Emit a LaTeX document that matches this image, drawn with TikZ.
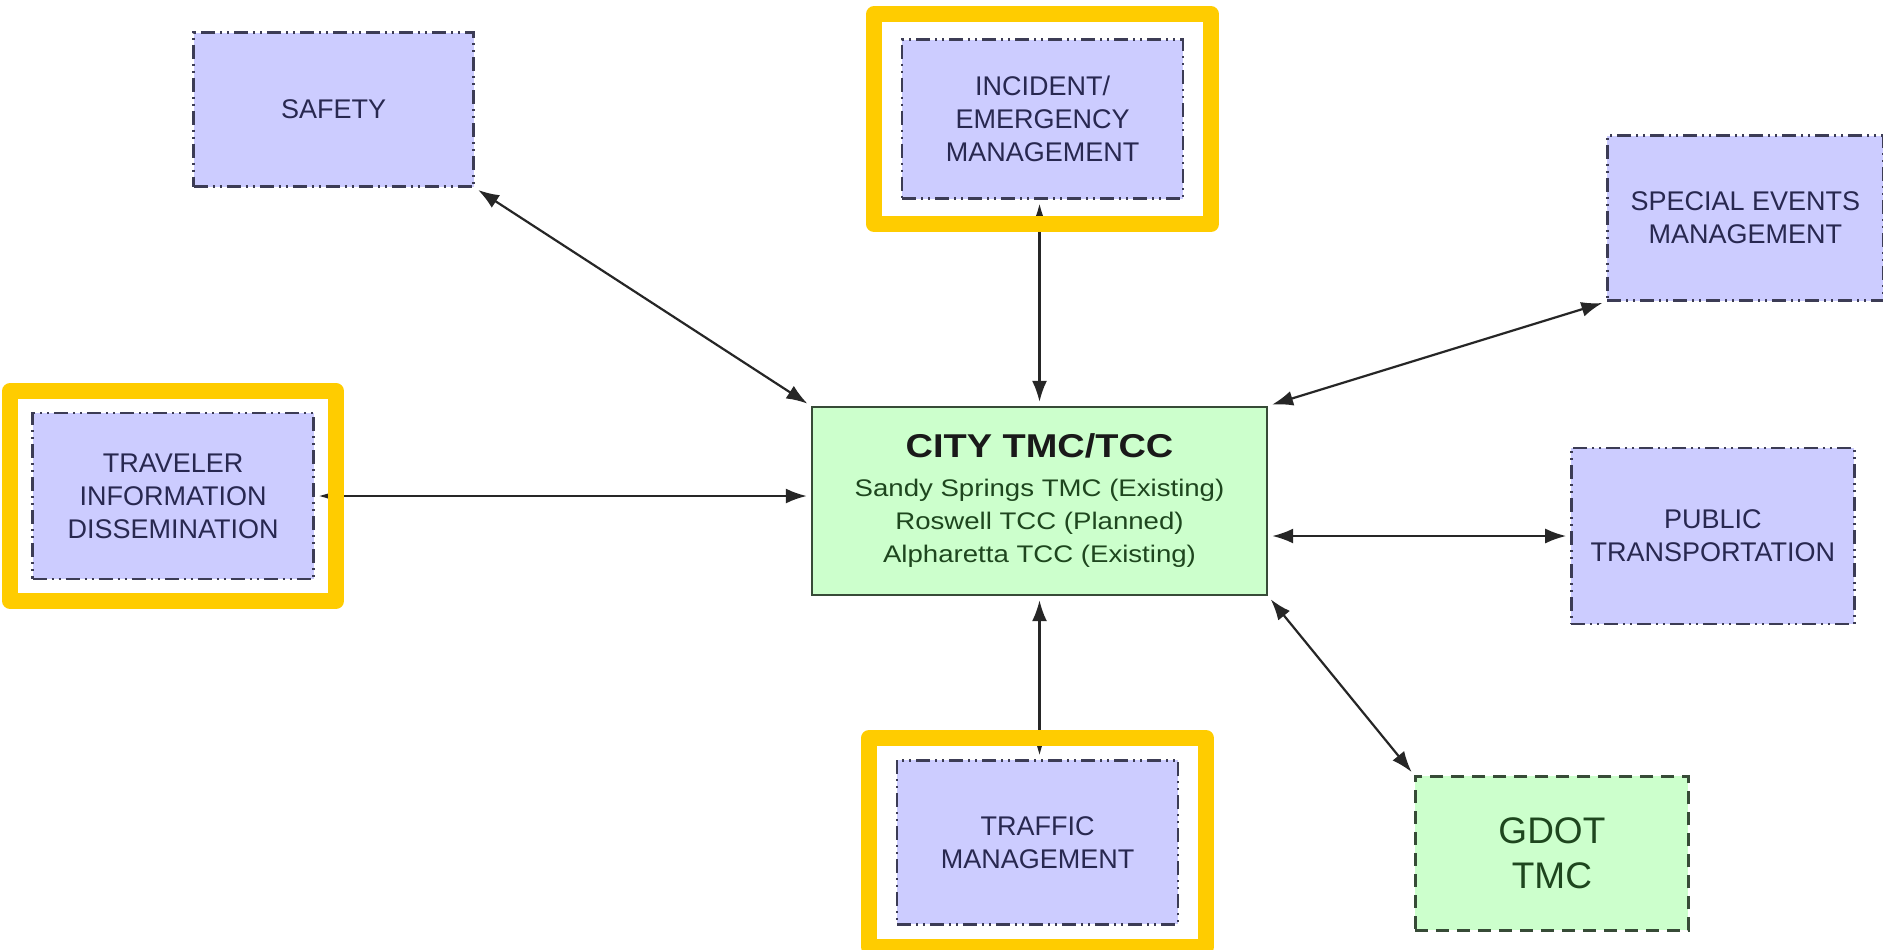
\documentclass[tikz,border=0pt]{standalone}
\usepackage{fontspec}
\setmainfont{Liberation Sans}
\newfontfamily\widesans{Liberation Sans}[FakeStretch=1.15]
\usetikzlibrary{positioning,fit,arrows.meta}

\definecolor{boxblue}{RGB}{204,204,255}
\definecolor{boxgreen}{RGB}{204,255,204}
\definecolor{hiyellow}{RGB}{255,204,0}
\definecolor{navytext}{RGB}{40,40,80}
\definecolor{greentext}{RGB}{30,70,30}
\definecolor{edgegray}{RGB}{60,60,85}
\definecolor{tmcedge}{RGB}{55,75,55}

\begin{document}
\begin{tikzpicture}[%
			x=0.5pt, y=-0.5pt,
			<->,
			shorten >=2pt,
			shorten <=2pt,
			>={Latex[length=10.5pt,width=7.5pt]},
			line width=1.1pt,
			every edge/.append style={draw=black!85},
			funcbox/.style={%
				draw=edgegray,
				fill=boxblue,
				line width=1.2pt,
				dash pattern=on 7pt off 2.5pt on 1pt off 2.5pt on 1pt off 2.5pt,
				text=navytext,
				font=\fontsize{13.5}{16.5}\selectfont,
				align=center,
				inner sep=0pt
			},
			tmcbox/.style={%
				draw=tmcedge,
				fill=boxgreen,
				line width=1.2pt,
				text=greentext,
				align=center,
				inner sep=0pt
			},
			hilite/.style={%
				draw=hiyellow,
				line width=8pt,
				line join=round,
				inner sep=11pt
			}
			]
			\useasboundingbox (0,0) rectangle (1883,949);
			\node[tmcbox, minimum width=227.5pt, minimum height=94pt, font=\widesans\fontsize{12}{16.5}\selectfont] (1) at (1039.5,501) {%
				{\color{black!90}\fontsize{16.5}{20}\selectfont\bfseries CITY TMC/TCC}\\[3pt]
				Sandy Springs TMC (Existing)\\
				Roswell TCC (Planned)\\
				Alpharetta TCC (Existing)};
			\node[funcbox, minimum width=140pt, minimum height=77pt] (2) [above left=109pt and 168pt of 1] {SAFETY};
			\node[funcbox, minimum width=140.5pt, minimum height=79.5pt] (3) [above=103pt of 1, xshift=1.5pt] {INCIDENT/\\EMERGENCY\\MANAGEMENT};
			\node[funcbox, minimum width=138pt, minimum height=82.5pt] (4) [above right=52pt and 169pt of 1] {SPECIAL EVENTS\\MANAGEMENT};
			\node[funcbox, minimum width=140.5pt, minimum height=83pt] (5) [left=248pt of 1, yshift=2.5pt] {TRAVELER\\INFORMATION\\DISSEMINATION};
			\node[funcbox, minimum width=141.5pt, minimum height=88pt] (6) [right=151pt of 1, yshift=-17.5pt] {PUBLIC\\TRANSPORTATION};
			\node[funcbox, minimum width=140.5pt, minimum height=82pt] (7) [below=81.5pt of 1, xshift=-1pt] {TRAFFIC\\MANAGEMENT};
			\node[tmcbox, dash pattern=on 6.5pt off 4pt, font=\fontsize{18.5}{22.5}\selectfont, minimum width=136.5pt, minimum height=77pt] (8) [below right=89.5pt and 73pt of 1] {GDOT\\TMC};

			\path (2.south east) edge (1.north west)
			(1.north) edge (1.north |- 3.south)
			(4.south west) edge (1.north east)
			(5.east) edge (5.east -| 1.west)
			(6.west) edge (6.west -| 1.east)
			(1.south) edge (1.south |- 7.north)
			(8.north west) edge (1.south east);

			\node[hilite, fit=(3), inner xsep=13.5pt, inner ysep=12pt] (3f) {};
			\node[hilite, fit=(5), inner sep=10.5pt] (5f) {};
			\node[hilite, fit=(7), inner xsep=13.5pt, inner ysep=10.5pt] (7f) {};
\end{tikzpicture}
\end{document}
